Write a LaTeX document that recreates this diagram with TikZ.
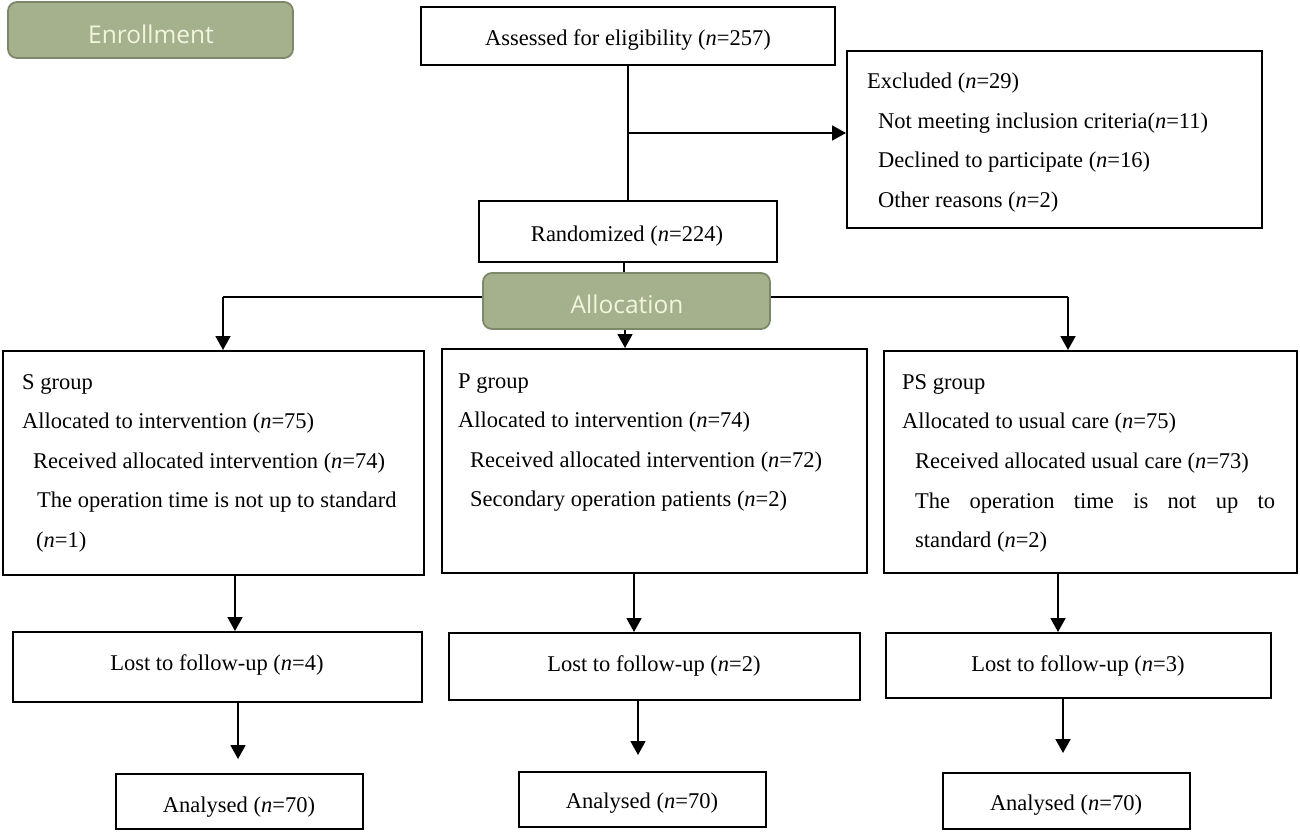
\documentclass[tikz,border=0pt]{standalone}
\usepackage{fontspec}
\setmainfont{Liberation Serif}
\newfontfamily\greenfont{Open Sans}
\usetikzlibrary{arrows.meta}
\definecolor{gfill}{HTML}{A4B18C}
\definecolor{gdraw}{HTML}{7D876A}
\definecolor{gtext}{HTML}{F2F5DE}
\newcommand{\nn}{\textit{n}}
\tikzset{
  box/.style={draw=black, line width=2pt, fill=white, inner sep=0pt},
  gbox/.style={draw=gdraw, line width=1.8pt, fill=gfill, rounded corners=9pt, inner sep=0pt},
  gtxt/.style={font=\greenfont\fontsize{24.5}{28}\selectfont, text=gtext, inner sep=0pt, anchor=base},
  txt/.style={font=\fontsize{22.5}{27}\selectfont, inner sep=0pt, anchor=base west},
  ctxt/.style={font=\fontsize{22.5}{27}\selectfont, inner sep=0pt, anchor=base},
  conn/.style={line width=1.8pt},
  arr/.style={line width=1.8pt, -{Triangle[width=15pt,length=14pt]}},
}
\begin{document}
\begin{tikzpicture}[x=1pt,y=-1pt]
\useasboundingbox (0,0) rectangle (1300,833);
% horizontal allocation line (behind allocation box)
\coordinate (hl) at (223,297);
\coordinate (hr) at (1068,297);
\draw[conn] (hl) -- (hr);

% Enrollment
\node[gbox, minimum width=285pt, minimum height=56pt] (enr) at (150.5,30) {};
\node[gtxt] (enrt) at (151,43) {Enrollment};

% Assessed
\node[box, minimum width=414pt, minimum height=58pt] (ass) at (628,36) {};
\node[ctxt] (asst) at (628,45) {Assessed for eligibility (\nn=257)};

% Excluded
\node[box, minimum width=415pt, minimum height=177pt] (exc) at (1054.5,139.5) {};
\node[txt] (e1) at (867,88) {Excluded (\nn=29)};
\node[txt] (e2) at (878,128) {Not meeting inclusion criteria(\nn=11)};
\node[txt] (e3) at (878,167) {Declined to participate (\nn=16)};
\node[txt] (e4) at (878,207) {Other reasons (\nn=2)};

% Randomized
\node[box, minimum width=298pt, minimum height=61pt] (ran) at (628,231.5) {};
\node[ctxt] (rant) at (627,241) {Randomized (\nn=224)};

% connectors top
\coordinate (br) at (628,133);
\draw[conn] (ass.south -| br) -- (ran.north -| br);
\draw[arr] (br) -- (exc.west |- br);

% Allocation
\node[gbox, minimum width=287pt, minimum height=56pt] (alo) at (626.5,301) {};
\node[gtxt] (alot) at (627,313) {Allocation};
\draw[conn] (ran.south -| 624,0) -- (alo.north -| 624,0);

% Group boxes
\node[box, minimum width=421pt, minimum height=224pt] (sg) at (213.5,463) {};
\node[box, minimum width=425pt, minimum height=224pt] (pg) at (654.5,461) {};
\node[box, minimum width=413pt, minimum height=222pt] (psg) at (1090.5,462) {};

\draw[arr] (hl) -- (sg.north -| hl);
\draw[arr] (hr) -- (psg.north -| hr);
\draw[arr] (alo.south -| 625,0) -- (pg.north -| 625,0);

% S group text
\node[txt] (s1) at (22,389) {S group};
\node[txt] (s2) at (22,428) {Allocated to intervention (\nn=75)};
\node[txt] (s3) at (33,468) {Received allocated intervention (\nn=74)};
\node[txt] (s4) at (37,507) {The operation time is not up to standard};
\node[txt] (s5) at (36,547) {(\nn=1)};

% P group text
\node[txt] (p1) at (458,388) {P group};
\node[txt] (p2) at (458,427) {Allocated to intervention (\nn=74)};
\node[txt] (p3) at (470,467) {Received allocated intervention (\nn=72)};
\node[txt] (p4) at (470,506) {Secondary operation patients (\nn=2)};

% PS group text
\node[txt] (q1) at (902,389) {PS group};
\node[txt] (q2) at (902,428) {Allocated to usual care (\nn=75)};
\node[txt] (q3) at (915,468) {Received allocated usual care (\nn=73)};
\node[txt] (q4) at (915,508) {\makebox[360pt][s]{The operation time is not up to}};
\node[txt] (q5) at (915,547) {standard (\nn=2)};

% Lost boxes
\node[box, minimum width=409pt, minimum height=70pt] (sl) at (217.5,667) {};
\node[ctxt] (slt) at (217,670) {Lost to follow-up (\nn=4)};
\node[box, minimum width=411pt, minimum height=67pt] (pl) at (654.5,666.5) {};
\node[ctxt] (plt) at (654,671) {Lost to follow-up (\nn=2)};
\node[box, minimum width=385pt, minimum height=65pt] (psl) at (1078.5,665.5) {};
\node[ctxt] (pslt) at (1078,671) {Lost to follow-up (\nn=3)};

% Analysed boxes
\node[box, minimum width=247pt, minimum height=55pt] (sa) at (239.5,801.5) {};
\node[ctxt] (sat) at (239,812) {Analysed (\nn=70)};
\node[box, minimum width=247pt, minimum height=55pt] (pa) at (642.5,799.5) {};
\node[ctxt] (pat) at (642,808) {Analysed (\nn=70)};
\node[box, minimum width=247pt, minimum height=56pt] (psa) at (1066.5,801) {};
\node[ctxt] (psat) at (1066,810) {Analysed (\nn=70)};

% vertical arrows
\draw[arr] (sg.south -| 235,0) -- (sl.north -| 235,0);
\draw[arr] (pg.south -| 634,0) -- (pl.north -| 634,0);
\draw[arr] (psg.south -| 1058,0) -- (psl.north -| 1058,0);
\draw[arr, shorten >=14pt] (sl.south -| 238,0) -- (sa.north -| 238,0);
\draw[arr, shorten >=16pt] (pl.south -| 638,0) -- (pa.north -| 638,0);
\draw[arr, shorten >=19pt] (psl.south -| 1063,0) -- (psa.north -| 1063,0);
\end{tikzpicture}
\end{document}
